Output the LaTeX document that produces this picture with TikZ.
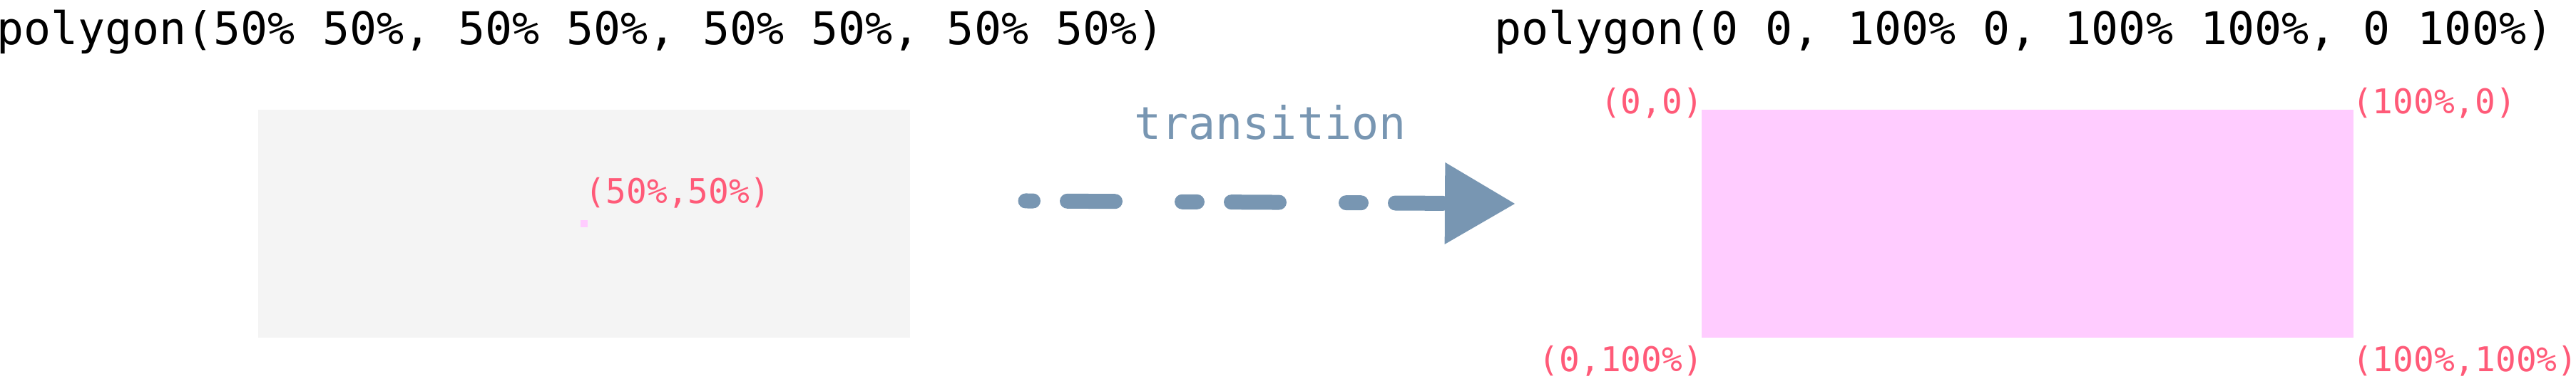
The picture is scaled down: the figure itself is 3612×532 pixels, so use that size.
\documentclass[tikz,border=0pt]{standalone}
\usepackage{fontspec}
\setmonofont{DejaVu Sans Mono}
\usetikzlibrary{arrows.meta}
\definecolor{boxgray}{HTML}{F4F4F4}
\definecolor{clippink}{HTML}{FFCCFF}
\definecolor{pointred}{HTML}{FF5A78}
\definecolor{flowblue}{HTML}{7896B2}

\begin{document}
\begin{tikzpicture}[x=0.1mm,y=-0.1mm]
\tikzstyle{every node}=[inner sep=0pt, outer sep=0pt];
\tikzstyle{title}=[font=\ttfamily\fontsize{18}{18}\selectfont, anchor=base west];
\tikzstyle{point}=[font=\ttfamily\fontsize{13.6}{13.6}\selectfont, text=pointred];
\tikzstyle{area}=[rectangle, minimum width=91.4mm, minimum height=32mm, anchor=north west];
\tikzstyle{flow}=[flowblue, line width=2.1mm, line cap=round,
	dash pattern=on 2.1mm off 4.8mm on 6.7mm off 9.4mm, dash phase=1.05mm,
	-{Triangle[length=9.8mm, width=11.5mm, line width=0pt]}];
\useasboundingbox (0,0) rectangle (3612,532);

\node [title] (before) at (-5,63) {polygon(50\% 50\%, 50\% 50\%, 50\% 50\%, 50\% 50\%)};
\node [title] (after) at (2095,63) {polygon(0 0, 100\% 0, 100\% 100\%, 0 100\%)};

\node [area, fill=boxgray] (beforebox) at (362,154) {};
\node [fill=clippink, minimum size=1mm] (mid) at (beforebox.center) {};
\node [point, anchor=base west] (midlabel) at ([xshift=0.2mm, yshift=2.8mm]mid.center) {(50\%,50\%)};

\node [area, fill=clippink] (afterbox) at (2386,154) {};
\node [point, anchor=base east] (nw) at ([xshift=0.2mm, yshift=-0.6mm]afterbox.north west) {(0,0)};
\node [point, anchor=base west] (ne) at ([xshift=-0.2mm, yshift=-0.6mm]afterbox.north east) {(100\%,0)};
\node [point, anchor=base east] (sw) at ([xshift=0.2mm, yshift=-4.8mm]afterbox.south west) {(0,100\%)};
\node [point, anchor=base west] (se) at ([xshift=-0.2mm, yshift=-4.8mm]afterbox.south east) {(100\%,100\%)};

\coordinate (from) at (1438,282);
\coordinate (to) at (2124,286);
\draw [flow] (from) -- node [pos=0.5, anchor=base, yshift=8.8mm, text=flowblue,
	font=\ttfamily\fontsize{18}{18}\selectfont] (trans) {transition} (to);
\end{tikzpicture}
\end{document}
